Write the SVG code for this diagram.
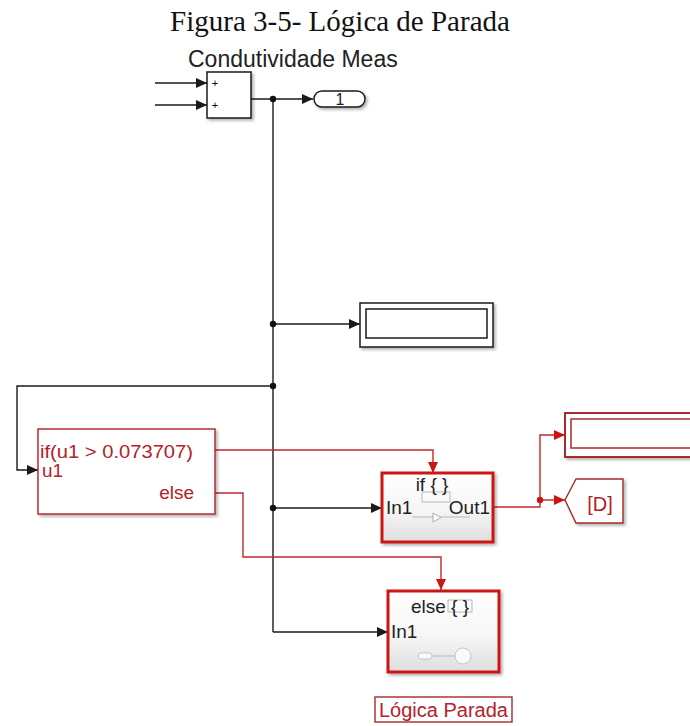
<svg xmlns="http://www.w3.org/2000/svg" width="690" height="726" viewBox="0 0 690 726">
<defs>
<style>
.blk{fill:none;stroke:#1a1a1a;stroke-width:1.4}
.red{fill:none;stroke:#c0282d;stroke-width:1.4}
.t{font-family:"Liberation Sans",Arial,sans-serif;fill:#222}
.tr{font-family:"Liberation Sans",Arial,sans-serif;fill:#b5202b}
.box{fill:#fff;stroke:#1a1a1a;stroke-width:1.5}
.act{stroke:#cc1414;stroke-width:3;fill:url(#g)}
.icon{fill:none;stroke:#b8b8b8;stroke-width:1}
</style>
<linearGradient id="g" x1="0" y1="0" x2="0" y2="1">
<stop offset="0" stop-color="#ffffff"/>
<stop offset="0.55" stop-color="#f6f6f6"/>
<stop offset="1" stop-color="#dedede"/>
</linearGradient>
<filter id="sh" x="-10%" y="-10%" width="130%" height="140%">
<feDropShadow dx="2" dy="2" stdDeviation="1.5" flood-color="#000" flood-opacity="0.3"/>
</filter>
<marker id="ab" markerUnits="userSpaceOnUse" markerWidth="12" markerHeight="10" refX="11" refY="5" orient="auto">
<path d="M0,0 L11,5 L0,10 Z" fill="#1a1a1a"/>
</marker>
<marker id="ar" markerUnits="userSpaceOnUse" markerWidth="12" markerHeight="10" refX="11" refY="5" orient="auto">
<path d="M0,0 L11,5 L0,10 Z" fill="#cc1414"/>
</marker>
</defs>
<rect width="690" height="726" fill="#fff"/>

<text x="340" y="31" text-anchor="middle" font-family="Liberation Serif,Times New Roman,serif" font-size="29" fill="#111">Figura 3-5- Lógica de Parada</text>

<g id="connectors">
<path class="blk" d="M155,83 H207" marker-end="url(#ab)"/>
<path class="blk" d="M155,105 H207" marker-end="url(#ab)"/>
<path class="blk" d="M251,99 H313" marker-end="url(#ab)"/>
<path class="blk" d="M273,99 V632"/>
<path class="blk" d="M273,324 H360" marker-end="url(#ab)"/>
<path class="blk" d="M273,386 H17 V470 H38" marker-end="url(#ab)"/>
<path class="blk" d="M273,508 H382" marker-end="url(#ab)"/>
<path class="blk" d="M273,632 H388" marker-end="url(#ab)"/>
<circle cx="273" cy="99" r="3.2" fill="#111"/>
<circle cx="273" cy="324" r="3.2" fill="#111"/>
<circle cx="273" cy="386" r="3.2" fill="#111"/>
<circle cx="273" cy="508" r="3.2" fill="#111"/>
<path class="red" d="M215,450 H433 V473" marker-end="url(#ar)"/>
<path class="red" d="M215,493 H243 V557 H441 V590" marker-end="url(#ar)"/>
<path class="red" d="M493,507 H540 V435 H565" marker-end="url(#ar)"/>
<path class="red" d="M540,500 H565" marker-end="url(#ar)"/>
<circle cx="540" cy="500" r="3.2" fill="#cc1414"/>
</g>

<g id="sum">
<text class="t" x="188" y="67" font-size="23">Condutividade Meas</text>
<rect class="box" x="207" y="72" width="44" height="46" filter="url(#sh)"/>
<text x="215" y="87" font-family="Liberation Sans,Arial,sans-serif" font-size="11" text-anchor="middle" fill="#000">+</text>
<text x="215" y="109" font-family="Liberation Sans,Arial,sans-serif" font-size="11" text-anchor="middle" fill="#000">+</text>
</g>

<g id="outport1">
<rect x="314" y="91" width="51" height="16" rx="8" fill="#fff" stroke="#1a1a1a" stroke-width="1.5" filter="url(#sh)"/>
<text class="t" x="340" y="105" font-size="16" text-anchor="middle">1</text>
</g>

<g id="display1">
<rect class="box" x="360" y="303" width="133" height="44" stroke-width="2" filter="url(#sh)"/>
<rect class="box" x="366" y="309" width="121" height="29" stroke-width="1.5"/>
</g>

<g id="ifblock">
<rect x="38" y="429" width="177" height="85" fill="#fff" stroke="#b5202b" stroke-width="1.4" filter="url(#sh)"/>
<text class="tr" x="40" y="458" font-size="19" textLength="153" lengthAdjust="spacingAndGlyphs">if(u1 &gt; 0.073707)</text>
<text class="tr" x="42" y="477" font-size="19">u1</text>
<text class="tr" x="194" y="499" font-size="19" text-anchor="end">else</text>
</g>

<g id="ifaction">
<rect class="act" x="382" y="473" width="111" height="69" filter="url(#sh)"/>
<rect class="icon" x="422" y="492" width="28" height="10"/>
<path class="icon" d="M412,517 H470"/>
<path d="M433,513 L441,517.5 L433,522 Z" fill="#fff" stroke="#aaa" stroke-width="1"/>
<text class="t" x="432" y="491" font-size="19" text-anchor="middle">if { }</text>
<text class="t" x="386" y="514" font-size="19">In1</text>
<text class="t" x="490" y="514" font-size="19" text-anchor="end">Out1</text>
</g>

<g id="elseaction">
<rect class="act" x="388" y="591" width="111" height="81" filter="url(#sh)"/>
<rect class="icon" x="448" y="600" width="24" height="12"/>
<text class="t" x="440" y="613" font-size="19" text-anchor="middle">else { }</text>
<text class="t" x="391" y="638" font-size="19">In1</text>
<rect x="418" y="653" width="14" height="6" rx="3" fill="#fafafa" stroke="#c4c4c4" stroke-width="1"/>
<path class="icon" d="M432,656 H455"/>
<circle cx="463" cy="656" r="8" fill="#fafafa" stroke="#c4c4c4" stroke-width="1"/>
</g>

<g id="display2">
<rect x="565" y="413" width="140" height="44" fill="#fff" stroke="#a52a2a" stroke-width="2" filter="url(#sh)"/>
<rect x="571" y="419" width="130" height="29" fill="#fff" stroke="#a52a2a" stroke-width="1.5"/>
</g>

<g id="gotoD">
<path d="M565,500 L576,479 L623,479 L623,523 L576,523 Z" fill="#fff" stroke="#a52a2a" stroke-width="1.4" filter="url(#sh)"/>
<text class="tr" x="600" y="511" font-size="20" text-anchor="middle">[D]</text>
</g>

<g id="label">
<rect x="375" y="697" width="137" height="25" fill="#fff" stroke="#a52a2a" stroke-width="1.4"/>
<text class="tr" x="379" y="717" font-size="20">Lógica Parada</text>
</g>
</svg>
